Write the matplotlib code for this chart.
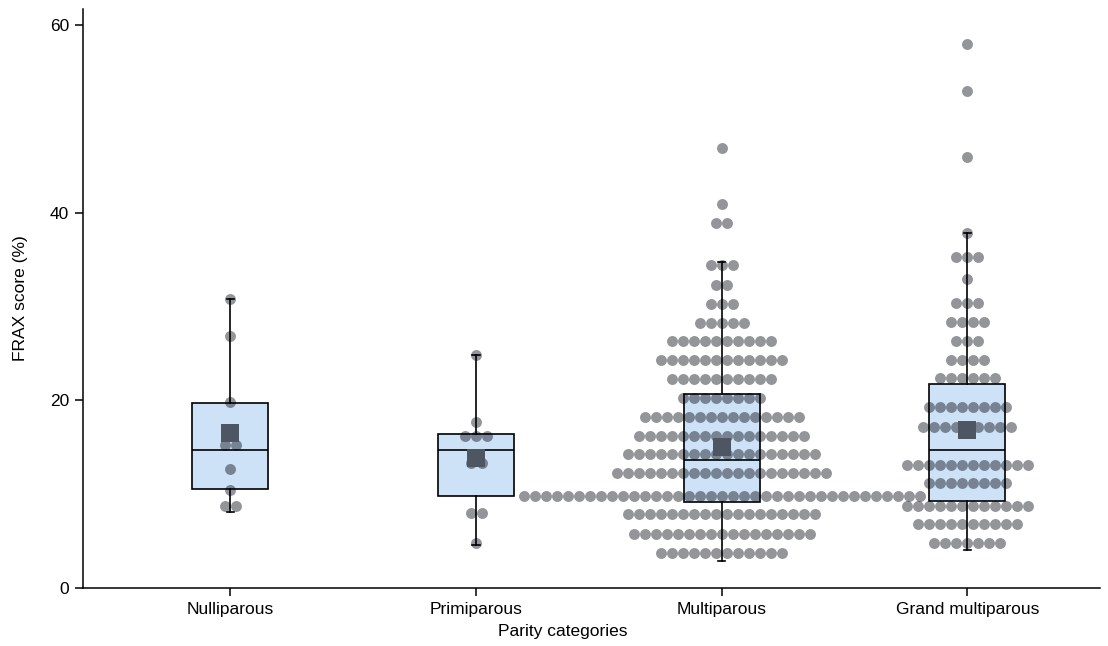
import numpy as np
import matplotlib.pyplot as plt

plt.rcParams['font.family'] = ['Liberation Sans', 'DejaVu Sans']

categories = ['Nulliparous', 'Primiparous', 'Multiparous', 'Grand multiparous']

# dot rows: FRAX level and number of dots in that row
nulli_levels = [8.7, 10.4, 12.7, 15.2, 19.8, 26.8, 30.8]
nulli_counts = [2, 1, 1, 2, 1, 1, 1]

primi_levels = [4.8, 8.0, 13.3, 16.2, 17.7, 24.8]
primi_counts = [1, 2, 2, 3, 1, 1]

multi_levels = [3.7, 5.8, 7.9, 9.8, 12.3, 14.3, 16.2, 18.2, 20.2, 22.3,
                24.3, 26.3, 28.2, 30.3, 32.3, 34.4, 38.9, 40.9, 46.9]
multi_counts = [12, 17, 18, 37, 20, 18, 16, 15, 8, 10,
                12, 10, 5, 3, 2, 3, 2, 1, 1]

grand_levels = [4.8, 6.8, 8.7, 11.2, 13.1, 17.2, 19.3, 22.4, 24.3, 26.3,
                28.3, 30.4, 32.9, 35.3, 37.8, 45.9, 53.0, 58.0]
grand_counts = [7, 10, 12, 8, 12, 9, 8, 6, 4, 3,
                4, 3, 1, 3, 1, 1, 1, 1]

# box plot summary per group
q1 = [10.5, 9.8, 9.2, 9.3]
medians = [14.7, 14.7, 13.6, 14.7]
q3 = [19.75, 16.4, 20.7, 21.7]
whis_lo = [8.1, 4.6, 2.9, 4.1]
whis_hi = [30.8, 24.8, 34.7, 37.8]
means = [16.5, 13.8, 15.0, 16.8]

yticks = [0, 20, 40, 60]

groups = [(nulli_levels, nulli_counts), (primi_levels, primi_counts),
          (multi_levels, multi_counts), (grand_levels, grand_counts)]
positions = np.arange(len(categories))

fig = plt.figure(figsize=(11.08, 6.46), dpi=100)
ax = fig.add_axes([0.0749, 0.0898, 0.9179, 0.8963])

# boxes
stats = []
for i in range(len(categories)):
    stats.append(dict(med=medians[i], q1=q1[i], q3=q3[i],
                      whislo=whis_lo[i], whishi=whis_hi[i], label=categories[i]))
ax.bxp(stats, positions=positions, widths=0.31, capwidths=0.03,
       showfliers=False, patch_artist=True,
       boxprops=dict(facecolor='#cde1f7', edgecolor='black', linewidth=1.2),
       medianprops=dict(color='black', linewidth=1.2),
       whiskerprops=dict(color='black', linewidth=1.2),
       capprops=dict(color='black', linewidth=1.2),
       zorder=1)

# dots, laid out side by side in rows
dx = 0.0448
for pos, (levels, counts) in zip(positions, groups):
    xs, ys = [], []
    for lev, n in zip(levels, counts):
        offs = (np.arange(n) - (n - 1) / 2) * dx
        xs.extend(pos + offs)
        ys.extend([lev] * n)
    ax.scatter(xs, ys, s=62, color='#00030a', alpha=0.42, linewidths=0, zorder=2)

# means
ax.scatter(positions, means, marker='s', s=150, color='#4f5663', linewidths=0, zorder=3)

ax.set_xlim(-0.6, 3.54)
ax.set_ylim(0, 61.7)
ax.set_xticks(positions)
ax.set_xticklabels(categories)
ax.set_yticks(yticks)
ax.tick_params(labelsize=12.5, length=6, width=1.1, pad=4)

for s in ['top', 'right']:
    ax.spines[s].set_visible(False)
for s in ['left', 'bottom']:
    ax.spines[s].set_linewidth(1.1)

ax.set_xlabel('Parity categories', fontsize=12.5)
ax.set_ylabel('FRAX score (%)', fontsize=12.5)
ax.xaxis.set_label_coords(0.472, -0.062)
ax.yaxis.set_label_coords(-0.054, 0.5)

fig.savefig('out.png', dpi=100)
